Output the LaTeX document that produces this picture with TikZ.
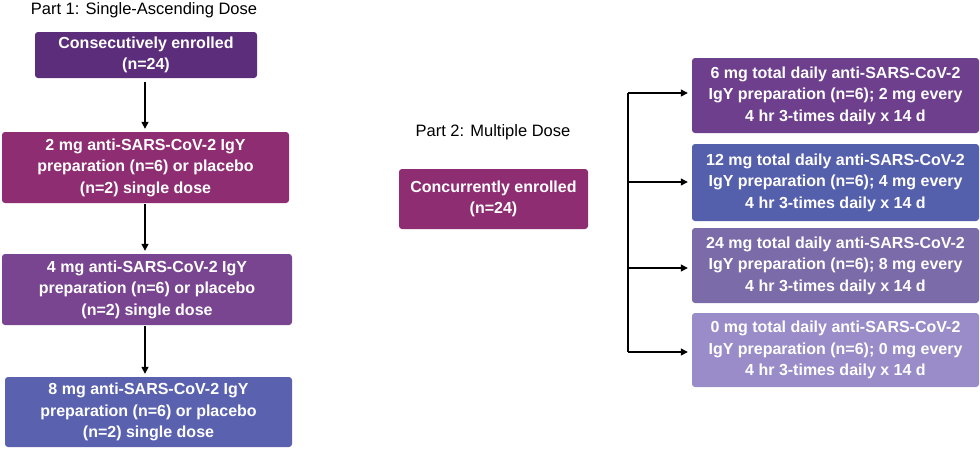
\documentclass[tikz,border=0pt]{standalone}
\usepackage{fontspec}
\setmainfont{Liberation Sans}
\usetikzlibrary{arrows.meta}
\definecolor{cA}{HTML}{5B2D7A}
\definecolor{cB}{HTML}{8E2D72}
\definecolor{cC}{HTML}{7A4590}
\definecolor{cD}{HTML}{5A62B0}
\definecolor{rA}{HTML}{6E3F8C}
\definecolor{rB}{HTML}{5560AD}
\definecolor{rC}{HTML}{7B6BA8}
\definecolor{rD}{HTML}{9A8CC8}
\tikzset{
  box/.style={rounded corners=3pt, inner sep=0pt, align=center, text=white,
    font=\fontsize{16}{21.5}\selectfont\bfseries},
  ttl/.style={font=\fontsize{16.5}{18}\selectfont, text=black},
  arr/.style={-{Triangle[length=7pt,width=7pt]}, line width=1.3pt},
  ln/.style={line width=1.3pt}
}
\begin{document}
\begin{tikzpicture}[x=1pt,y=-1pt]
\useasboundingbox (0,0) rectangle (980,448);
\node[ttl] (t1) at (144,10) {Part 1: Single-Ascending Dose};
\node[box, fill=cA, minimum width=222pt, minimum height=46pt] (b1) at (146,55)
  {Consecutively enrolled\\(n=24)};
\node[box, fill=cB, minimum width=287pt, minimum height=71pt] (b2) at (145.5,167.5)
  {2 mg anti-SARS-CoV-2 IgY\\preparation (n=6) or placebo\\(n=2) single dose};
\node[box, fill=cC, minimum width=290pt, minimum height=71pt] (b3) at (147,289.5)
  {4 mg anti-SARS-CoV-2 IgY\\preparation (n=6) or placebo\\(n=2) single dose};
\node[box, fill=cD, minimum width=287pt, minimum height=70pt] (b4) at (148.5,412)
  {8 mg anti-SARS-CoV-2 IgY\\preparation (n=6) or placebo\\(n=2) single dose};
\draw[arr, shorten <=4pt, shorten >=3pt] (b1.south -| 145,0) -- (b2.north -| 145,0);
\draw[arr, shorten <=1pt, shorten >=3pt] (b2.south -| 145,0) -- (b3.north -| 145,0);
\draw[arr, shorten <=1pt, shorten >=3pt] (b3.south -| 145,0) -- (b4.north -| 145,0);

\node[ttl] (t2) at (493,132) {Part 2: Multiple Dose};
\node[box, fill=cB, minimum width=189pt, minimum height=60pt] (p2) at (493.5,199)
  {Concurrently enrolled\\(n=24)};

\node[box, fill=rA, minimum width=287pt, minimum height=75pt] (r1) at (835.5,95.5)
  {6 mg total daily anti-SARS-CoV-2\\IgY preparation (n=6); 2 mg every\\4 hr 3-times daily x 14 d};
\node[box, fill=rB, minimum width=287pt, minimum height=77pt] (r2) at (835.5,182.5)
  {12 mg total daily anti-SARS-CoV-2\\IgY preparation (n=6); 4 mg every\\4 hr 3-times daily x 14 d};
\node[box, fill=rC, minimum width=287pt, minimum height=75pt] (r3) at (835.5,265.5)
  {24 mg total daily anti-SARS-CoV-2\\IgY preparation (n=6); 8 mg every\\4 hr 3-times daily x 14 d};
\node[box, fill=rD, minimum width=287pt, minimum height=74pt] (r4) at (835.5,350)
  {0 mg total daily anti-SARS-CoV-2\\IgY preparation (n=6); 0 mg every\\4 hr 3-times daily x 14 d};

\coordinate (bt) at (628,93);
\coordinate (bb) at (628,352);
\draw[ln] (bt) -- (bb);
\draw[arr, shorten >=4pt] (bt) -- (r1.west |- bt);
\draw[arr, shorten >=4pt] (628,182) -- (r2.west |- 0,182);
\draw[arr, shorten >=4pt] (628,268) -- (r3.west |- 0,268);
\draw[arr, shorten >=4pt] (bb) -- (r4.west |- bb);
\end{tikzpicture}
\end{document}
